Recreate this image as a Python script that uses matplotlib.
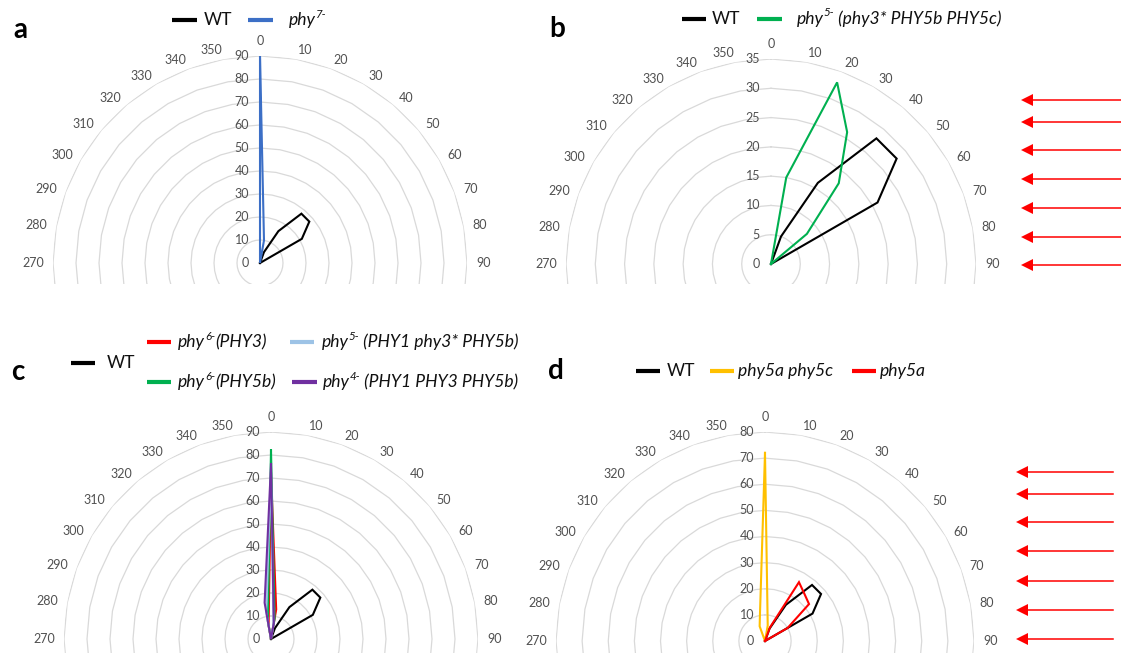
import numpy as np
import matplotlib
matplotlib.use("Agg")
import matplotlib.pyplot as plt
from matplotlib.lines import Line2D
from matplotlib.patches import Polygon
from matplotlib.transforms import Bbox, TransformedBbox, ScaledTranslation

plt.rcParams['font.family'] = ['Lato', 'DejaVu Sans']

W, H, DPI = 1121, 653, 100

# Categories: direction in degrees (0 ... 350)
directions = list(range(0, 360, 10))

# Percentage of plants per direction (36 values, 0..350 deg)
wt = [0, 0, 5, 16, 28, 28, 21, 0, 0, 0, 0, 0,
      0, 0, 0, 0, 0, 0, 0, 0, 0, 0, 0, 0,
      0, 0, 0, 0, 0, 0, 0, 0, 0, 0, 0, 0]

phy7 = [90, 10, 0, 0, 0, 0, 0, 0, 0, 0, 0, 0,
        0, 0, 0, 0, 0, 0, 0, 0, 0, 0, 0, 0,
        0, 0, 0, 0, 0, 0, 0, 0, 0, 0, 0, 0]

phy5_3b5c = [0, 15, 33, 26, 18, 8, 0, 0, 0, 0, 0, 0,
             0, 0, 0, 0, 0, 0, 0, 0, 0, 0, 0, 0,
             0, 0, 0, 0, 0, 0, 0, 0, 0, 0, 0, 0]

phy6_PHY3 = [72, 13, 0, 0, 0, 0, 0, 0, 0, 0, 0, 0,
             0, 0, 0, 0, 0, 0, 0, 0, 0, 0, 0, 0,
             0, 0, 0, 0, 0, 0, 0, 0, 0, 0, 0, 6]

phy6_PHY5b = [82, 9, 0, 0, 0, 0, 0, 0, 0, 0, 0, 0,
              0, 0, 0, 0, 0, 0, 0, 0, 0, 0, 0, 0,
              0, 0, 0, 0, 0, 0, 0, 0, 0, 0, 0, 8]

phy5_PHY1_3_5b = [74, 6, 0, 0, 0, 0, 0, 0, 0, 0, 0, 0,
                  0, 0, 0, 0, 0, 0, 0, 0, 0, 0, 0, 0,
                  0, 0, 0, 0, 0, 0, 0, 0, 0, 0, 0, 12]

phy4_PHY1_3_5b = [76, 7, 0, 0, 0, 0, 0, 0, 0, 0, 0, 0,
                  0, 0, 0, 0, 0, 0, 0, 0, 0, 0, 0, 0,
                  0, 0, 0, 0, 0, 0, 0, 0, 0, 0, 0, 16]

phy5a_phy5c = [72, 6, 0, 0, 0, 0, 0, 0, 0, 0, 0, 0,
               0, 0, 0, 0, 0, 0, 0, 0, 0, 0, 0, 0,
               0, 0, 0, 0, 0, 0, 0, 0, 0, 0, 6, 11]

phy5a = [0, 0, 5.5, 26, 23.5, 22, 10, 0, 0, 0, 0, 0,
         0, 0, 0, 0, 0, 0, 0, 0, 0, 0, 0, 0,
         0, 0, 0, 0, 0, 0, 0, 0, 0, 0, 0, 0]

# Direction labels shown on the upper half of each chart
shown_labels = [270, 280, 290, 300, 310, 320, 330, 340, 350,
                0, 10, 20, 30, 40, 50, 60, 70, 80, 90]

BLACK = '#000000'
BLUE = '#3C6FC6'
GREEN = '#00B050'
RED = '#FF0000'
LBLUE = '#9DC3E6'
PURPLE = '#7030A0'
YELLOW = '#FFC000'
GRID = '#D9D9D9'
LABEL = '#505050'

fig = plt.figure(figsize=(W / DPI, H / DPI), dpi=DPI, facecolor='white')
renderer = fig.canvas.get_renderer()


def fx(x):
    return x / W


def fy(y):
    return 1 - y / H


def radar(cx, cy, R, rmax, step, series, cut_y):
    ax = fig.add_axes([fx(cx - R), fy(cy + R), 2 * R / W, 2 * R / H],
                      projection='polar')
    ax.set_theta_zero_location('N')
    ax.set_theta_direction(-1)
    ax.set_xticks([])
    ax.set_yticks([])
    ax.grid(False)
    ax.spines['polar'].set_visible(False)
    ax.patch.set_visible(False)

    clip = TransformedBbox(Bbox([[0, fy(cut_y)], [1, 1]]), fig.transFigure)
    theta = np.deg2rad(np.array(directions + [360]))

    for level in range(step, rmax + 1, step):
        ln, = ax.plot(theta, [level] * len(theta), color=GRID, lw=0.9,
                      zorder=1)
        ln.set_clip_box(clip)

    for vals, color in series:
        ln, = ax.plot(theta, list(vals) + [vals[0]], color=color, lw=1.5,
                      zorder=3, solid_joinstyle='miter')
        ln.set_clip_box(clip)

    ax.set_ylim(0, rmax)

    r_lab = rmax * (R + 9) / R
    for a in shown_labels:
        if a == 0:
            ha, va = 'center', 'bottom'
        elif a <= 90:
            ha, va = 'left', 'center'
        else:
            ha, va = 'right', 'center'
        ax.text(np.deg2rad(a), r_lab, str(a), ha=ha, va=va, fontsize=9,
                color=LABEL)

    shift = ScaledTranslation(-11 / DPI, 0, fig.dpi_scale_trans)
    for v in range(0, rmax + 1, step):
        ax.text(0, v, str(v), ha='right', va='center', fontsize=9,
                color=LABEL, transform=ax.transData + shift)
    return ax


def rich_text(x, y, parts, italic=True, size=12.6):
    """Write text pieces one after another; pieces flagged 'sup' are raised."""
    style = 'italic' if italic else 'normal'
    cur = x
    for s, kind in parts:
        if kind == 'sup':
            t = fig.text(fx(cur), fy(y - 6), s, ha='left', va='center',
                         fontsize=size * 0.66, style=style, color='#111111')
        else:
            t = fig.text(fx(cur), fy(y), s, ha='left', va='center',
                         fontsize=size, style=style, color='#111111')
        bb = t.get_window_extent(renderer=renderer)
        cur += bb.width


def legend_item(x0, x1, y, color, parts, tx, italic=True):
    fig.add_artist(Line2D([fx(x0), fx(x1)], [fy(y), fy(y)], color=color,
                          lw=3.0, solid_capstyle='butt',
                          transform=fig.transFigure))
    rich_text(tx, y, parts, italic=italic)


def arrows(ys, x_tip, x_tail):
    for y in ys:
        fig.add_artist(Line2D([fx(x_tip + 10), fx(x_tail)], [fy(y), fy(y)],
                              color=RED, lw=1.1, transform=fig.transFigure))
        fig.add_artist(Polygon([[fx(x_tip), fy(y)],
                                [fx(x_tip + 12), fy(y - 6)],
                                [fx(x_tip + 12), fy(y + 6)]],
                               closed=True, color=RED, lw=0,
                               transform=fig.transFigure))


# a
radar(260, 263, 207, 90, 10, [(wt, BLACK), (phy7, BLUE)], 284)
# b
radar(771, 264, 205, 35, 5, [(wt, BLACK), (phy5_3b5c, GREEN)], 284)
# c
radar(271, 639, 207, 90, 10,
      [(wt, BLACK), (phy6_PHY3, RED), (phy6_PHY5b, GREEN),
       (phy5_PHY1_3_5b, LBLUE), (phy4_PHY1_3_5b, PURPLE)], 653)
# d
radar(765, 641, 209, 80, 10,
      [(wt, BLACK), (phy5a_phy5c, YELLOW), (phy5a, RED)], 653)

# panel letters
for letter, x, y in [('a', 20, 30), ('b', 557, 29), ('c', 18, 372),
                     ('d', 556, 371)]:
    fig.text(fx(x), fy(y), letter, ha='center', va='center', fontsize=20,
             fontweight='bold', color='black')

# legends
legend_item(172, 197, 20, BLACK, [('WT', 'n')], 204, italic=False)
legend_item(248, 273, 20, BLUE, [('phy', 'n'), ('7-', 'sup')], 289)

legend_item(682, 706, 19, BLACK, [('WT', 'n')], 712, italic=False)
legend_item(757, 782, 19, GREEN,
            [('phy', 'n'), ('5-', 'sup'), (' (phy3* PHY5b PHY5c)', 'n')], 797)

legend_item(71, 95, 363, BLACK, [('WT', 'n')], 107, italic=False)
legend_item(147, 171, 342, RED,
            [('phy', 'n'), ('6-', 'sup'), ('(PHY3)', 'n')], 178)
legend_item(290, 314, 342, LBLUE,
            [('phy', 'n'), ('5-', 'sup'), (' (PHY1 phy3* PHY5b)', 'n')], 322)
legend_item(147, 171, 382, GREEN,
            [('phy', 'n'), ('6-', 'sup'), ('(PHY5b)', 'n')], 178)
legend_item(292, 317, 382, PURPLE,
            [('phy', 'n'), ('4-', 'sup'), (' (PHY1 PHY3 PHY5b)', 'n')], 323)

legend_item(636, 660, 371, BLACK, [('WT', 'n')], 667, italic=False)
legend_item(710, 734, 371, YELLOW, [('phy5a phy5c', 'n')], 738)
legend_item(852, 876, 371, RED, [('phy5a', 'n')], 880)

# incident light direction
arrows([100, 122, 150, 179, 208, 237, 265], 1021, 1121)
arrows([472, 494, 522, 551, 581, 610, 639], 1016, 1113)

fig.savefig('out.png', dpi=DPI, facecolor='white')
